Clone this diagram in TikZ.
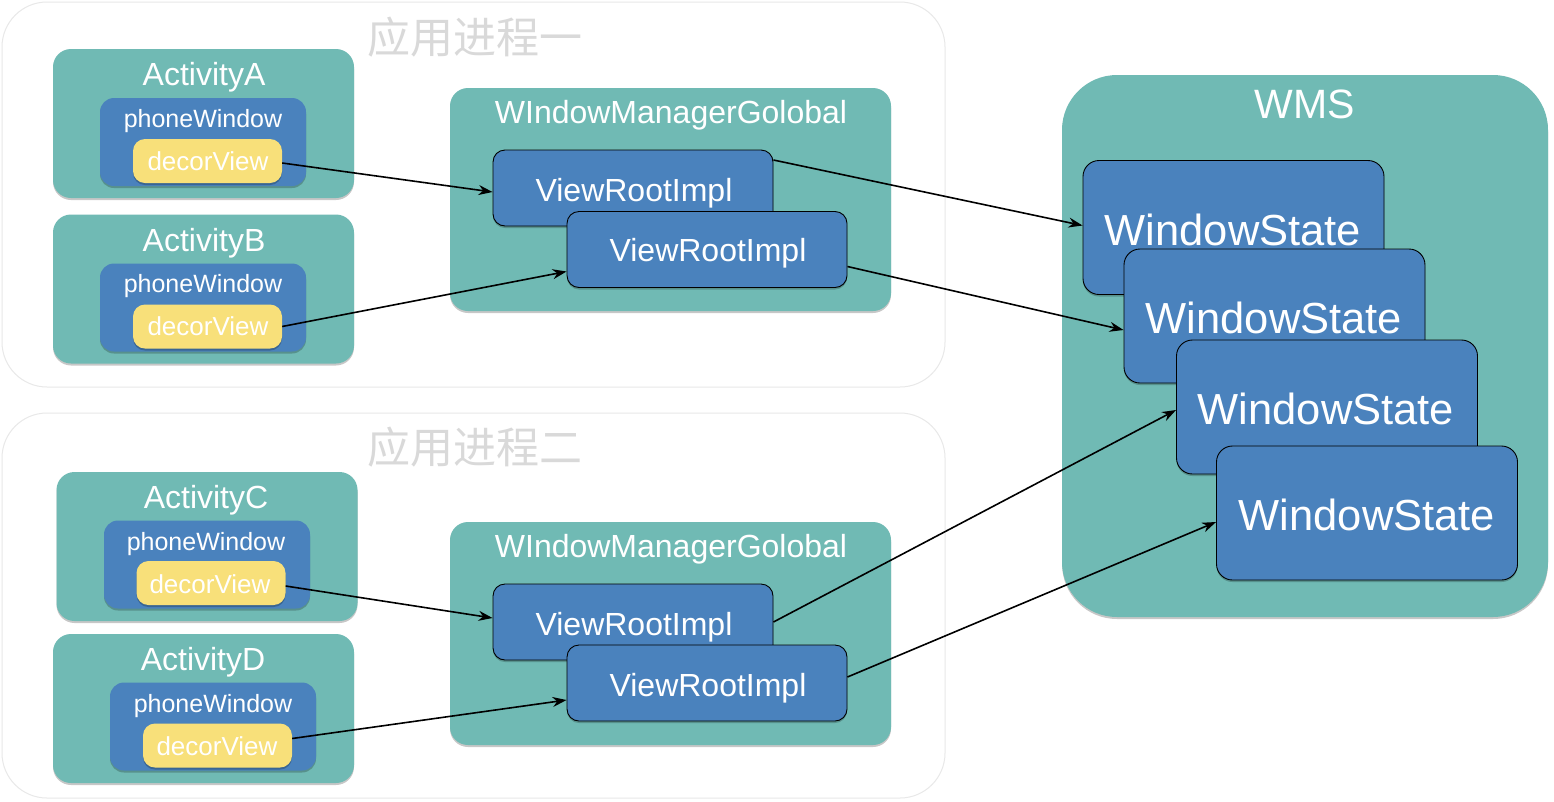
\documentclass[tikz,border=0pt]{standalone}
\usepackage{fontspec}
\setmainfont{Liberation Sans}
\newfontfamily\cjk{Noto Sans CJK SC}
\usetikzlibrary{shadows,arrows.meta,calc}
\definecolor{tealc}{HTML}{70BAB4}
\definecolor{bluec}{HTML}{4A82BD}
\definecolor{yelc}{HTML}{F8E07A}
\definecolor{procline}{HTML}{E8E8E8}
\definecolor{titlec}{HTML}{D9D9D9}
\tikzset{
  shd/.style={drop shadow={shadow xshift=0pt,shadow yshift=-2pt,opacity=0.22,fill=black}},
  proc/.style={draw=procline,line width=1pt,fill=white,rounded corners=45pt,minimum width=943pt,minimum height=385pt,inner sep=0pt},
  act/.style={shd,fill=tealc,rounded corners=18pt,minimum width=301pt,minimum height=149pt,inner sep=0pt},
  pw/.style={shd,fill=bluec,rounded corners=14pt,minimum width=206pt,minimum height=88pt,inner sep=0pt},
  dv/.style={shd,fill=yelc,rounded corners=12pt,minimum width=149pt,minimum height=44pt,inner sep=0pt},
  wmg/.style={shd,fill=tealc,rounded corners=18pt,minimum width=441pt,minimum height=223pt,inner sep=0pt},
  vri/.style={shd,fill=bluec,draw=black,line width=0.9pt,rounded corners=12pt,minimum width=280pt,minimum height=76pt,inner sep=0pt},
  wms/.style={shd,fill=tealc,rounded corners=55pt,minimum width=486pt,minimum height=542pt,inner sep=0pt},
  ws/.style={shd,fill=bluec,draw=black,line width=0.9pt,rounded corners=16pt,minimum width=301pt,minimum height=134pt,inner sep=0pt},
  lbl/.style={text=white,inner sep=0pt,anchor=base},
  actl/.style={lbl,font=\fontsize{32}{38}\selectfont},
  smalll/.style={lbl,font=\fontsize{25}{30}\selectfont},
  dvl/.style={lbl,font=\fontsize{26}{31}\selectfont},
  wmgl/.style={lbl,font=\fontsize{32}{38}\selectfont},
  vril/.style={lbl,font=\fontsize{32}{38}\selectfont},
  wsl/.style={lbl,font=\fontsize{43.5}{50}\selectfont},
  wmsl/.style={lbl,font=\fontsize{41}{48}\selectfont},
  titl/.style={text=titlec,inner sep=0pt,font=\cjk\fontsize{43}{50}\selectfont},
  arr/.style={-{Stealth[length=14pt,width=10pt]},line width=1.6pt,black}
}
\begin{document}
\begin{tikzpicture}[x=1pt,y=-1pt]
\useasboundingbox (0,0) rectangle (1554,801);
\fill[white] (0,0) rectangle (1554,801);
% process boxes
\node[proc] (p1) at (473.5,194.5) {};
\node[proc] (p2) at (473.5,605.5) {};
\node[titl] (t1) at (475,37) {应用进程一};
\node[titl] (t2) at (475,447) {应用进程二};
% process 1 activities
\node[act] (actA) at (203.5,123.5) {};
\node[pw] (pwA) at (203,142) {};
\node[dv] (dvA) at (207.5,161) {};
\node[actl] (lactA) at (204,85) {ActivityA};
\node[smalll] (lpwA) at (203,127) {phoneWindow};
\node[dvl] (ldvA) at (208,170) {decorView};
\node[act] (actB) at (203.5,289) {};
\node[pw] (pwB) at (203,307.5) {};
\node[dv] (dvB) at (207.5,326.5) {};
\node[actl] (lactB) at (204,251) {ActivityB};
\node[smalll] (lpwB) at (203,292) {phoneWindow};
\node[dvl] (ldvB) at (208,335) {decorView};
% process 2 activities
\node[act] (actC) at (207,546.5) {};
\node[pw] (pwC) at (207,564.5) {};
\node[dv] (dvC) at (211,583) {};
\node[actl] (lactC) at (206,508) {ActivityC};
\node[smalll] (lpwC) at (206,550) {phoneWindow};
\node[dvl] (ldvC) at (210,593) {decorView};
\node[act] (actD) at (203.5,708.5) {};
\node[pw] (pwD) at (213,726.5) {};
\node[dv] (dvD) at (217.5,745.5) {};
\node[actl] (lactD) at (203,670) {ActivityD};
\node[smalll] (lpwD) at (213,712) {phoneWindow};
\node[dvl] (ldvD) at (217,755) {decorView};
% window manager global
\node[wmg] (wmg1) at (670.5,199.5) {};
\node[wmgl] (lwmg1) at (671,123) {WIndowManagerGolobal};
\node[vri] (vri1) at (633,188) {};
\node[vril] (lvri1) at (634,201) {ViewRootImpl};
\node[vri] (vri2) at (707,249.5) {};
\node[vril] (lvri2) at (708,261) {ViewRootImpl};
\node[wmg] (wmg2) at (670.5,633.5) {};
\node[wmgl] (lwmg2) at (671,557) {WIndowManagerGolobal};
\node[vri] (vri3) at (633,622) {};
\node[vril] (lvri3) at (634,635) {ViewRootImpl};
\node[vri] (vri4) at (707,683) {};
\node[vril] (lvri4) at (708,696) {ViewRootImpl};
% WMS
\node[wms] (wms) at (1305,346) {};
\node[wmsl] (lwms) at (1305,118) {WMS};
\node[ws] (ws1) at (1233.5,227.5) {};
\node[wsl] (lws1) at (1233,245) {WindowState};
\node[ws] (ws2) at (1274.5,316) {};
\node[wsl] (lws2) at (1274,333) {WindowState};
\node[ws] (ws3) at (1327,407) {};
\node[wsl] (lws3) at (1326,424) {WindowState};
\node[ws] (ws4) at (1367,513) {};
\node[wsl] (lws4) at (1367,530) {WindowState};
% connectors
\draw[arr] ([yshift=-2pt]dvA.east) -- ([yshift=-4pt]vri1.west);
\draw[arr] (dvB.east) -- ([yshift=-22pt]vri2.west);
\draw[arr] ([yshift=28pt]vri1.east) -- ([yshift=2pt]ws1.west);
\draw[arr] ([yshift=-17pt]vri2.east) -- ([yshift=-14pt]ws2.west);
\draw[arr] ([yshift=-3pt]dvC.east) -- ([yshift=4pt]vri3.west);
\draw[arr] ([yshift=7pt]dvD.east) -- ([yshift=-17pt]vri4.west);
\draw[arr] (vri3.east) -- ([yshift=-3pt]ws3.west);
\draw[arr] ([yshift=6pt]vri4.east) -- ([yshift=-9pt]ws4.west);
\end{tikzpicture}
\end{document}
